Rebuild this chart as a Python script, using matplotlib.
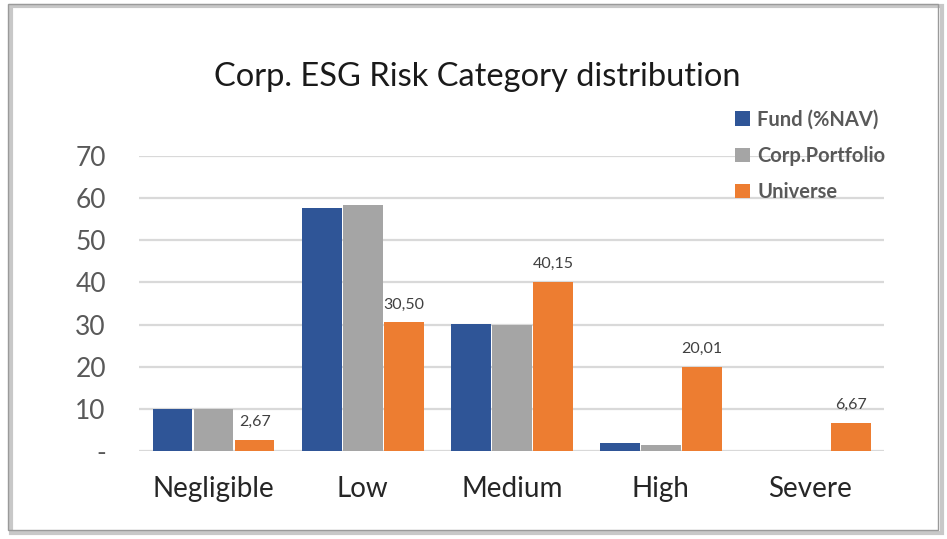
#!/usr/bin/env python3
"""Corp. ESG risk category distribution bar chart."""

import matplotlib.pyplot as plt
import numpy as np
from matplotlib.patches import Rectangle

categories = ["Negligible", "Low", "Medium", "High", "Severe"]
fund = [10.0, 57.7, 30.1, 1.9, 0.0]
corp_portfolio = [10.0, 58.4, 30.0, 1.5, 0.0]
universe = [2.67, 30.50, 40.15, 20.01, 6.67]
series_names = ["Fund (%NAV)", "Corp.Portfolio", "Universe"]
yticks = [0, 10, 20, 30, 40, 50, 60, 70]

COLORS = ["#2f5597", "#a5a5a5", "#ed7d31"]
FONT = ["Lato", "DejaVu Sans"]

fig = plt.figure(figsize=(9.47, 5.39), dpi=100)
ax = fig.add_axes([0.147, 0.1633, 0.787, 0.5473])

x = np.arange(len(categories))
w = 0.265
bars = []
for i, (vals, color) in enumerate(zip([fund, corp_portfolio, universe], COLORS)):
    b = ax.bar(x + (i - 1) * (w + 0.01), vals, width=w, color=color, label=series_names[i], zorder=3)
    bars.append(b)

for rect, v in zip(bars[2], universe):
    ax.text(rect.get_x() + rect.get_width() / 2, v + 2.5, f"{v:.2f}".replace(".", ","),
            ha="center", va="bottom", fontsize=11.5, color="#404040", family=FONT)

ax.set_xlim(-0.5, len(categories) - 0.5)
ax.set_ylim(0, 70)
ax.set_yticks(yticks)
ax.set_yticklabels(["-" if t == 0 else str(t) for t in yticks], family=FONT, fontsize=19, color="#595959")
ax.set_xticks(x)
ax.set_xticklabels(categories, family=FONT, fontsize=20, color="#262626")
ax.tick_params(axis="y", length=0, pad=24)
ax.tick_params(axis="x", length=0, pad=18)
ax.grid(axis="y", color="#d9d9d9", linewidth=1.6, zorder=0)
for s in ax.spines.values():
    s.set_visible(False)

fig.text(0.504, 0.858, "Corp. ESG Risk Category distribution", ha="center", va="center",
         fontsize=23.5, color="#1a1a1a", family=FONT)

ax.legend(loc="upper left", bbox_to_anchor=(0.775, 1.218), frameon=False,
          prop={"family": FONT, "size": 14.5, "weight": "bold"}, labelcolor="#595959",
          handlelength=0.75, handleheight=0.75, handletextpad=0.35, labelspacing=0.8)

# chart frame with a light shadow
fig.patches.append(Rectangle((0.012, 0.012), 0.983, 0.976, transform=fig.transFigure,
                             fill=False, edgecolor="#c8c8c8", linewidth=3.0))
fig.patches.append(Rectangle((0.008, 0.016), 0.983, 0.976, transform=fig.transFigure,
                             fill=False, edgecolor="#9a9a9a", linewidth=1.0))

fig.savefig("out.png", dpi=100)
